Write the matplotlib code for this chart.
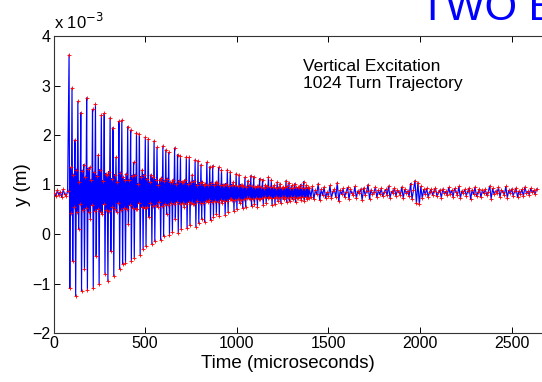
import matplotlib
matplotlib.use("Agg")
import matplotlib.pyplot as plt
import numpy as np

plt.rcParams['font.family'] = ['Liberation Sans', 'DejaVu Sans']

# values in units of 1e-3 m, time in microseconds

# quiet orbit before the kick (t = 5 .. 77, every 8 us)
pre_kick = [0.82, 0.76, 0.88, 0.79, 0.85, 0.74, 0.90, 0.80, 0.77, 0.86]

# decaying oscillation after the kick (from t = 85, 4 points per 16 us)
# each stroke: top, bottom, then two points inside the dense core
stroke_hi = [3.62, 2.95, 1.90, 2.68, 2.45, 1.40, 2.75, 1.35, 2.52, 2.62,
             1.60, 2.40, 2.44, 1.20, 2.35, 2.15, 1.55, 2.28, 2.30, 1.10,
             2.17, 2.10, 1.45, 2.05, 2.02, 1.30, 1.95, 1.92, 1.20, 1.88,
             1.75, 1.10, 1.78, 1.70, 1.65, 1.05, 1.74, 1.60, 1.58, 1.05,
             1.56, 1.55, 1.20, 1.50, 1.48, 1.40, 1.00, 1.45, 1.36, 1.38,
             1.05, 1.35, 1.30, 1.00, 1.30, 1.26, 1.05, 1.22, 1.19, 0.98,
             1.15, 1.08, 1.18, 1.16, 0.96, 1.12, 1.10, 1.00, 1.15, 1.10,
             0.98, 1.05, 1.02, 0.95, 1.08, 1.04, 0.98, 1.02, 0.94, 1.00,
             1.06, 0.98]
stroke_lo = [-1.10, -0.55, -1.25, 0.10, -1.15, -0.70, -1.13, 0.30, -1.10, -0.45,
             -1.02, 0.40, -0.80, -0.95, -0.35, -0.85, 0.45, -0.70, -0.60, -0.58,
             0.20, -0.55, -0.48, 0.50, -0.42, -0.30, -0.25, 0.35, -0.20, -0.15,
             0.55, -0.12, -0.05, 0.40, -0.02, 0.05, 0.30, 0.02, 0.10, 0.55,
             0.12, 0.18, 0.60, 0.15, 0.22, 0.30, 0.25, 0.65, 0.28, 0.35,
             0.40, 0.36, 0.62, 0.38, 0.45, 0.70, 0.46, 0.50, 0.62, 0.52,
             0.55, 0.72, 0.56, 0.60, 0.55, 0.70, 0.58, 0.62, 0.74, 0.58,
             0.60, 0.66, 0.62, 0.70, 0.64, 0.66, 0.70, 0.64, 0.72, 0.68,
             0.66, 0.70]
core_hi = [1.35, 1.20, 1.30, 1.05, 1.28, 1.15, 1.32, 1.10, 1.25, 1.18,
           1.30, 1.08, 1.22, 1.26, 1.12, 1.20, 1.05, 1.24, 1.15, 1.22,
           1.10, 1.18, 1.20, 1.02, 1.16, 1.20, 1.12, 1.05, 1.15, 1.10,
           1.00, 1.14, 1.08, 1.12, 1.05, 1.10, 1.02, 1.08, 1.06, 1.10,
           1.02, 1.05, 1.08, 1.00, 1.04, 1.06, 1.02, 0.98, 1.04, 1.00,
           1.03, 0.98, 1.00, 1.02, 0.97, 1.00, 0.98, 0.96, 1.00, 0.97,
           0.95, 0.98, 0.96, 0.94, 0.97, 0.95, 0.93, 0.96, 0.94, 0.95,
           0.93, 0.95, 0.92, 0.94, 0.96, 0.93, 0.92, 0.94, 0.95, 0.92,
           0.93, 0.94]
core_lo = [0.42, 0.55, 0.45, 0.60, 0.48, 0.52, 0.44, 0.58, 0.47, 0.50,
           0.45, 0.60, 0.48, 0.46, 0.55, 0.50, 0.62, 0.48, 0.52, 0.50,
           0.58, 0.52, 0.50, 0.62, 0.54, 0.52, 0.55, 0.62, 0.56, 0.58,
           0.64, 0.57, 0.60, 0.58, 0.63, 0.60, 0.65, 0.61, 0.62, 0.60,
           0.64, 0.62, 0.60, 0.66, 0.63, 0.62, 0.66, 0.68, 0.64, 0.66,
           0.65, 0.68, 0.67, 0.66, 0.70, 0.68, 0.69, 0.71, 0.68, 0.70,
           0.72, 0.70, 0.71, 0.73, 0.71, 0.72, 0.74, 0.72, 0.73, 0.72,
           0.74, 0.73, 0.75, 0.74, 0.72, 0.74, 0.75, 0.73, 0.74, 0.75,
           0.74, 0.73]

# settled orbit (from t = 1397, every 8 us)
settled = [0.92, 0.74, 0.96, 0.70, 0.88, 0.80, 1.02, 0.68, 0.90, 0.78, 0.95, 0.73,
           0.84, 0.76, 0.98, 0.72, 0.86, 0.90, 0.74, 1.04, 0.66, 0.88, 0.80, 0.92,
           0.75, 0.85, 0.94, 0.70, 0.90, 0.82, 0.78, 0.96, 0.72, 0.87, 0.83, 0.91,
           0.68, 0.93, 0.79, 0.86, 1.00, 0.71, 0.89, 0.81, 0.84, 0.95, 0.74, 0.88,
           0.80, 0.92, 0.76, 0.85, 0.90, 0.78, 0.97, 0.73, 0.86, 0.82, 0.93, 0.77,
           0.88, 0.84, 0.79, 0.95, 0.72, 0.90, 0.83, 0.87, 0.76, 1.02, 0.70, 0.89,
           1.08, 0.62, 1.04, 0.60, 0.96, 0.72, 0.90, 0.80, 0.92, 0.74, 0.85, 0.90,
           0.79, 0.87, 0.93, 0.76, 0.84, 0.89, 0.73, 0.91, 0.82, 0.86, 0.78, 0.94,
           0.81, 0.88, 0.75, 0.92, 0.85, 0.79, 0.96, 0.72, 0.87, 0.83, 0.90, 0.77,
           0.86, 0.93, 0.70, 0.89, 0.80, 0.95, 0.76, 0.84, 0.91, 0.74, 0.88, 0.82,
           0.90, 0.78, 0.85, 0.97, 0.71, 0.92, 0.80, 0.87, 0.83, 0.94, 0.75, 0.89,
           0.84, 0.79, 0.96, 0.73, 0.88, 0.82, 0.91, 0.77, 0.86, 0.93, 0.74, 0.87,
           0.81, 0.90, 0.76, 0.95, 0.83, 0.86, 0.79, 0.92, 0.84, 0.88, 0.80, 0.91]

xticks = [0, 500, 1000, 1500, 2000, 2500, 3000]
yticks = [-2, -1, 0, 1, 2, 3, 4]

# build the trajectory
decay = []
for a, b, c, d in zip(stroke_hi, stroke_lo, core_hi, core_lo):
    decay += [a, b, c, d]
t_pre = 5 + 8 * np.arange(len(pre_kick))
t_decay = 85 + 4 * np.arange(len(decay))
t_set = t_decay[-1] + 4 + 8 * np.arange(len(settled))
t = np.concatenate([t_pre, t_decay, t_set])
y = np.array(pre_kick + decay + settled)

fig = plt.figure(figsize=(5.42, 3.82), dpi=100)
ax = fig.add_axes([53.5 / 542, 49 / 382, 549.6 / 542, 297 / 382])

ax.plot(t, y, '-', color=(0, 0, 1), lw=0.85, zorder=2)
ax.plot(t, y, '+', color=(1, 0, 0), ms=3.5, mew=0.6, zorder=3)

ax.set_xlim(0, 3000)
ax.set_ylim(-2, 4)
ax.set_xticks(xticks)
ax.set_yticks(yticks)
ax.tick_params(direction='in', length=4, width=0.7, top=True, right=True,
               labelsize=11.5, pad=2, colors='black')
for sp in ax.spines.values():
    sp.set_linewidth(0.8)
    sp.set_color('#333333')

ax.set_xlabel('Time (microseconds)', fontsize=13.5, va='center')
ax.xaxis.set_label_coords(0.427, -0.104)
ax.set_ylabel('y (m)', fontsize=13.5, va='center')
ax.yaxis.set_label_coords(-0.057, 0.5)

ax.text(0, 1.012, r'x 10$^{-3}$', transform=ax.transAxes, fontsize=12,
        ha='left', va='bottom')

ax.text(303 / 542, 1 - 88 / 382, 'Vertical Excitation\n1024 Turn Trajectory',
        transform=fig.transFigure, fontsize=12.5, ha='left', va='baseline',
        linespacing=1.2)

fig.text(420 / 542, 1 - 20 / 382, 'TWO B', fontsize=30, color=(0, 0, 1),
         ha='left', va='baseline')

fig.savefig('out.png', dpi=100)
